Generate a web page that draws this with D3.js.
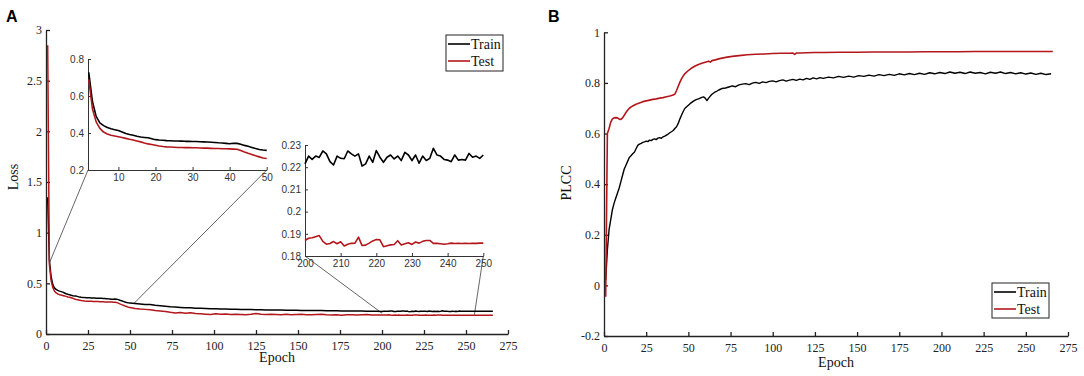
<!DOCTYPE html>
<html><head><meta charset="utf-8">
<script src="https://cdn.jsdelivr.net/npm/d3@7"></script>
<style>body{margin:0;background:#fff}svg{display:block}</style>
</head><body><svg id="c" width="1084" height="376"></svg>
<script>
// ---------- Panel A: Loss ----------
const lossEpochs = [].concat(d3.range(1, 51), d3.range(53, 198, 3), d3.range(200, 267));
const lossTrain = [
 1.35,0.728,0.57,0.49,0.455,0.44,0.43,0.423,0.418,0.413,0.405,0.397,0.392,0.388,0.382,0.378,0.376,0.374,0.369,0.364,
 0.362,0.361,0.359,0.358,0.357,0.357,0.356,0.355,0.355,0.354,0.354,0.353,0.352,0.351,0.350,0.349,0.347,0.346,0.344,0.342,
 0.345,0.344,0.339,0.333,0.328,0.322,0.316,0.311,0.308,0.306,
 0.300,0.295,0.291,0.292,0.284,0.279,0.274,0.268,0.266,0.262,0.259,0.258,0.255,0.253,0.252,0.250,0.248,0.247,0.246,0.245,
 0.244,0.243,0.242,0.241,0.240,0.239,0.238,0.238,0.237,0.236,0.235,0.235,0.234,0.233,0.233,0.232,0.231,0.231,0.230,0.229,
 0.229,0.228,0.228,0.227,0.227,0.226,0.225,0.225,0.224,
 0.2215,0.2250,0.2235,0.2250,0.2244,0.2273,0.2260,0.2225,0.2210,0.2250,0.2240,0.2238,0.2273,0.2260,0.2250,0.2260,0.2205,
 0.2215,0.2250,0.2222,0.2275,0.2245,0.2222,0.2245,0.2255,0.2237,0.2250,0.2230,0.2267,0.2255,0.2230,0.2255,0.2218,0.2250,
 0.2230,0.2240,0.2285,0.2255,0.2250,0.2235,0.2232,0.2225,0.2255,0.2232,0.2235,0.2232,0.2262,0.2245,0.2250,0.2240,0.2255,
 0.2240,0.2235,0.2245,0.2240,0.2238,0.2242,0.2245,0.2236,0.2240,0.2243,0.2238,0.2241,0.2244,0.2239,0.2240,0.2242
];
const lossTest = [
 2.85,0.69,0.53,0.46,0.425,0.405,0.395,0.388,0.384,0.380,0.376,0.371,0.366,0.362,0.357,0.352,0.346,0.341,0.338,0.334,
 0.330,0.327,0.325,0.324,0.323,0.322,0.322,0.321,0.321,0.320,0.320,0.319,0.318,0.318,0.317,0.316,0.316,0.315,0.315,0.314,
 0.313,0.312,0.305,0.297,0.290,0.284,0.277,0.271,0.265,0.262,
 0.252,0.246,0.243,0.240,0.232,0.228,0.222,0.214,0.208,0.212,0.205,0.209,0.203,0.200,0.196,0.193,0.199,0.194,0.197,0.192,
 0.196,0.193,0.191,0.195,0.203,0.194,0.192,0.196,0.193,0.191,0.194,0.190,0.192,0.194,0.191,0.190,0.193,0.195,0.189,0.187,
 0.190,0.186,0.189,0.191,0.187,0.189,0.192,0.187,0.188,
 0.1870,0.1880,0.1882,0.1887,0.1892,0.1866,0.1853,0.1856,0.1865,0.1855,0.1864,0.1845,0.1853,0.1857,0.1858,0.1885,0.1847,
 0.1849,0.1858,0.1868,0.1874,0.1873,0.1842,0.1846,0.1850,0.1852,0.1869,0.1850,0.1855,0.1860,0.1852,0.1863,0.1858,0.1866,
 0.1870,0.1870,0.1857,0.1857,0.1855,0.1853,0.1855,0.1858,0.1856,0.1857,0.1856,0.1857,0.1856,0.1857,0.1857,0.1858,0.1858,
 0.1858,0.1857,0.1858,0.1858,0.1857,0.1858,0.1858,0.1859,0.1858,0.1857,0.1858,0.1858,0.1859,0.1858,0.1858,0.1858
];
const epochTicks = [0,25,50,75,100,125,150,175,200,225,250,275];
const lossYTicks = [0,0.5,1,1.5,2,2.5,3];
const inset1XTicks = [10,20,30,40,50];
const inset1YTicks = [0.2,0.4,0.6,0.8];
const inset2XTicks = [200,210,220,230,240,250];
const inset2YTicks = [0.18,0.19,0.2,0.21,0.22,0.23];
// connector lines: [inset point, main point]
const inset1Links = [[[1.8,0.2],[2,0.70]],[[50,0.2],[52,0.296]]];
const inset2Links = [[[200,0.18],[200,0.205]],[[250,0.18],[255,0.19]]];

// ---------- Panel B: PLCC ----------
const plccTestEpochs = [1,2,3,4,5,6,7,8,9,10,11,12,13,14,15,17,19,21,23,25,27,29,31,33,35,37,39,41,42,43,44,45,46,47,48,
 50,52,54,56,58,60,62,63,64,66,68,70,73,76,80,85,90,95,100,105,110,112,113,114,116,120,125,130,
 140,150,160,170,180,190,200,210,220,230,240,250,258,266];
const plccTest = [-0.045,0.6,0.62,0.645,0.658,0.662,0.663,0.662,0.657,0.656,0.662,0.672,0.683,0.692,0.70,
 0.709,0.716,0.721,0.726,0.729,0.732,0.735,0.737,0.740,0.742,0.745,0.748,0.752,
 0.756,0.77,0.787,0.803,0.817,0.828,0.837,
 0.849,0.859,0.867,0.873,0.878,0.882,0.886,0.882,0.888,0.891,0.895,0.898,0.902,0.905,0.908,
 0.911,0.913,0.914,0.916,0.917,0.917,0.918,0.913,0.918,0.918,0.919,0.92,0.92,
 0.921,0.921,0.922,0.922,0.922,0.923,0.923,0.923,0.924,0.924,0.924,0.924,0.924,0.924];
const plccTrainEpochs = [].concat(d3.range(1, 71), d3.range(72, 131, 2), d3.range(133, 266, 3));
const plccTrain = [
 0.02,0.14,0.22,0.26,0.30,0.325,0.345,0.365,0.385,0.41,0.435,0.46,0.475,0.49,0.505,0.512,0.52,0.526,0.54,0.553,
 0.558,0.561,0.565,0.567,0.57,0.568,0.574,0.572,0.577,0.579,0.576,0.582,0.584,0.581,0.587,0.59,0.594,0.598,0.603,0.607,
 0.612,0.62,0.627,0.64,0.658,0.673,0.688,0.70,0.706,0.712,0.718,0.723,0.728,0.732,0.735,0.737,0.74,0.743,0.745,0.74,
 0.73,0.74,0.748,0.755,0.76,0.765,0.768,0.772,0.775,0.778,
 0.78,0.784,0.788,0.785,0.792,0.795,0.797,0.793,0.799,0.802,0.798,0.804,0.801,0.806,0.808,0.804,0.809,0.812,0.807,0.811,
 0.814,0.81,0.815,0.812,0.818,0.814,0.82,0.816,0.821,0.818,
 0.823,0.82,0.826,0.822,0.827,0.823,0.829,0.826,0.831,0.827,0.833,0.829,0.834,0.83,0.836,0.832,0.837,0.833,0.838,0.834,
 0.84,0.836,0.841,0.837,0.843,0.838,0.842,0.837,0.843,0.838,0.841,0.836,0.842,0.838,0.843,0.837,0.841,0.836,0.84,0.835,
 0.839,0.834,0.838,0.833,0.836
];
const plccYTicks = [-0.2,0,0.2,0.4,0.6,0.8,1];
const legendLabels = ["Train","Test"];

// ---------- drawing ----------
const RED = "#b3171c", BLACK = "#000";
const SERIF = "'Liberation Serif','Times New Roman',serif";
const SANS = "'Liberation Sans',Arial,sans-serif";
const svg = d3.select("#c");
svg.append("rect").attr("width",1084).attr("height",376).attr("fill","#fff");

function zip(xs, ys){ return xs.map((x,i)=>[x, ys[i]]); }

function drawAxes(x, y, xt, yt, o){
  const g = svg.append("g");
  const xa = d3.axisBottom(x).tickValues(xt).tickSizeInner(-o.tick).tickSizeOuter(0).tickPadding(o.xpad).tickFormat(d=>String(d));
  const ya = d3.axisLeft(y).tickValues(yt).tickSizeInner(-o.tick).tickSizeOuter(0).tickPadding(o.ypad).tickFormat(d=>String(d));
  const gx = g.append("g").attr("transform",`translate(0,${y.range()[0]})`).call(xa);
  const gy = g.append("g").attr("transform",`translate(${x.range()[0]},0)`).call(ya);
  [gx,gy].forEach(a=>{
    a.attr("font-family",o.font).attr("font-size",o.size);
    a.selectAll("path,line").attr("stroke",o.color).attr("stroke-width",o.sw);
    a.selectAll("text").attr("fill",o.tcolor);
  });
  return g;
}
function drawLine(x, y, data, color, w){
  svg.append("path").datum(data).attr("fill","none").attr("stroke",color)
    .attr("stroke-width",w).attr("stroke-linejoin","round")
    .attr("d", d3.line().x(d=>x(d[0])).y(d=>y(d[1])));
}
function legend(x0, y0, w, h){
  const g = svg.append("g");
  g.append("rect").attr("x",x0).attr("y",y0).attr("width",w).attr("height",h)
    .attr("fill","#fff").attr("stroke","#222").attr("stroke-width",1);
  legendLabels.forEach((lab,i)=>{
    const cy = y0 + 9 + i*17;
    g.append("line").attr("x1",x0+2).attr("x2",x0+24).attr("y1",cy).attr("y2",cy)
      .attr("stroke", i===0?BLACK:RED).attr("stroke-width",1.6);
    g.append("text").attr("x",x0+25).attr("y",cy+5).text(lab)
      .attr("font-family",SERIF).attr("font-size",14).attr("fill","#111");
  });
}

// Panel A
const xA = d3.scaleLinear([0,275],[46,508]);
const yA = d3.scaleLinear([0,3],[334,30]);
const mainStyle = {tick:4, xpad:7, ypad:4, font:SERIF, size:12, color:"#222", tcolor:"#222", sw:1.3};
drawAxes(xA, yA, epochTicks, lossYTicks, mainStyle);

const xI1 = d3.scaleLinear([1.8,50],[88,266.7]);
const yI1 = d3.scaleLinear([0.2,0.8],[170,59]);
const xI2 = d3.scaleLinear([200,250],[305,483.3]);
const yI2 = d3.scaleLinear([0.18,0.23],[256,145]);

// connector lines
inset1Links.forEach(([a,b])=>{
  svg.append("line").attr("x1",xI1(a[0])).attr("y1",yI1(a[1])).attr("x2",xA(b[0])).attr("y2",yA(b[1]))
    .attr("stroke","#555").attr("stroke-width",0.9);
});
inset2Links.forEach(([a,b])=>{
  svg.append("line").attr("x1",xI2(a[0])).attr("y1",yI2(a[1])).attr("x2",xA(b[0])).attr("y2",yA(b[1]))
    .attr("stroke","#555").attr("stroke-width",0.9);
});

const trainA = zip(lossEpochs, lossTrain), testA = zip(lossEpochs, lossTest);
drawLine(xA, yA, trainA, BLACK, 1.5);
drawLine(xA, yA, testA, RED, 1.5);

const insetStyle = {tick:3, xpad:4, ypad:4, font:SANS, size:10, color:"#333", tcolor:"#333", sw:1};
drawAxes(xI1, yI1, inset1XTicks, inset1YTicks, insetStyle);
drawLine(xI1, yI1, trainA.filter(d=>d[0]>=2 && d[0]<=50), BLACK, 1.6);
drawLine(xI1, yI1, testA.filter(d=>d[0]>=2 && d[0]<=50), RED, 1.6);

drawAxes(xI2, yI2, inset2XTicks, inset2YTicks, insetStyle);
drawLine(xI2, yI2, trainA.filter(d=>d[0]>=200 && d[0]<=250), BLACK, 1.6);
drawLine(xI2, yI2, testA.filter(d=>d[0]>=200 && d[0]<=250), RED, 1.6);

legend(446, 35, 57, 36);

svg.append("text").attr("x",277).attr("y",362).attr("text-anchor","middle")
  .attr("font-family",SERIF).attr("font-size",14).attr("fill","#111").text("Epoch");
svg.append("text").attr("transform","translate(18,177) rotate(-90)").attr("text-anchor","middle")
  .attr("font-family",SERIF).attr("font-size",14).attr("fill","#111").text("Loss");
svg.append("text").attr("x",6).attr("y",22).attr("font-family",SANS).attr("font-weight","bold")
  .attr("font-size",16).attr("fill","#000").text("A");

// Panel B
const xB = d3.scaleLinear([0,275],[604,1068]);
const yB = d3.scaleLinear([-0.2,1],[336,32.3]);
drawAxes(xB, yB, epochTicks, plccYTicks, mainStyle);
drawLine(xB, yB, zip(plccTrainEpochs, plccTrain), BLACK, 1.4);
drawLine(xB, yB, zip(plccTestEpochs, plccTest), RED, 1.6);
legend(992, 283, 57, 35);

svg.append("text").attr("x",836).attr("y",367).attr("text-anchor","middle")
  .attr("font-family",SERIF).attr("font-size",14).attr("fill","#111").text("Epoch");
svg.append("text").attr("transform","translate(571,183) rotate(-90)").attr("text-anchor","middle")
  .attr("font-family",SERIF).attr("font-size",14).attr("fill","#111").text("PLCC");
svg.append("text").attr("x",548).attr("y",22).attr("font-family",SANS).attr("font-weight","bold")
  .attr("font-size",16).attr("fill","#000").text("B");
</script>
</body></html>
